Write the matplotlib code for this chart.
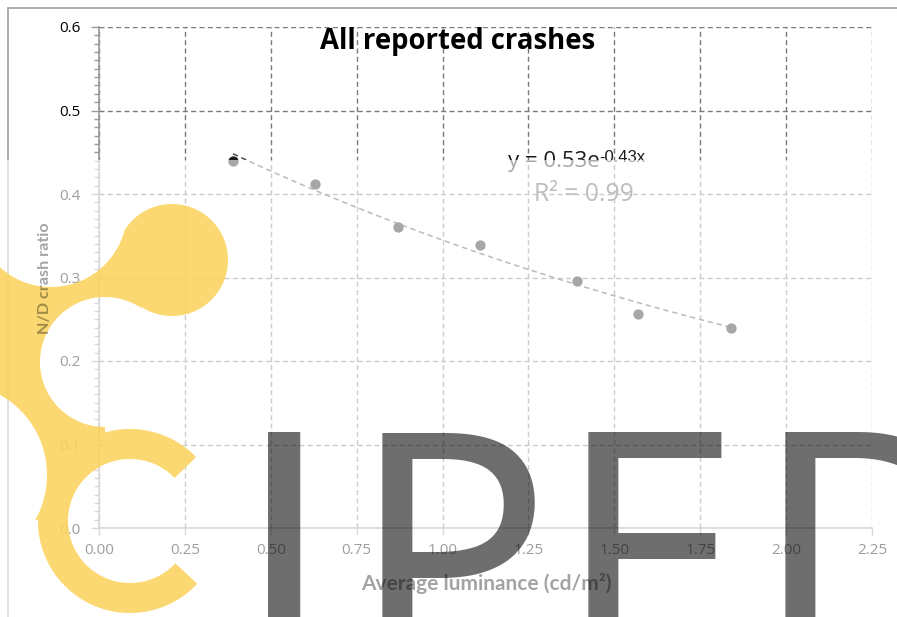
import numpy as np
import matplotlib.pyplot as plt
from matplotlib.patches import Rectangle
from matplotlib.ticker import MultipleLocator

# values
luminance = [0.39, 0.63, 0.87, 1.11, 1.39, 1.57, 1.84]
nd_ratio = [0.440, 0.412, 0.360, 0.339, 0.296, 0.256, 0.240]
x_ticks = [0.00, 0.25, 0.50, 0.75, 1.00, 1.25, 1.50, 1.75, 2.00, 2.25]
y_ticks = [0.0, 0.1, 0.2, 0.3, 0.4, 0.5, 0.6]
fit_a = 0.53   # y = a * exp(b * x), from the trendline label
fit_b = -0.43
r_squared = 0.99

title = "All reported crashes"
x_label = "Average luminance (cd/m²)"
y_label = "N/D crash ratio"
watermark = ["I", "P", "E", "D"]

W, H = 897, 617
fig = plt.figure(figsize=(W / 100, H / 100), dpi=100)
fig.patch.set_facecolor("white")
ax = fig.add_axes([99 / W, 1 - 528 / H, (872 - 99) / W, (528 - 27) / H])
ax.set_facecolor("none")

# scatter + exponential trendline
ax.scatter(luminance, nd_ratio, s=55, color="#1a1a1a", zorder=4, linewidths=0)
xs = np.linspace(min(luminance), max(luminance), 100)
ax.plot(xs, fit_a * np.exp(fit_b * xs), color="#4d4d4d", lw=1.1,
        dashes=(3.5, 2.5), zorder=3)

ax.set_xlim(x_ticks[0], x_ticks[-1])
ax.set_ylim(y_ticks[0], y_ticks[-1])
ax.set_xticks(x_ticks)
ax.set_yticks(y_ticks)
ax.set_xticklabels([f"{v:.2f}" for v in x_ticks])
ax.set_yticklabels([f"{v:.1f}" for v in y_ticks])
ax.yaxis.set_minor_locator(MultipleLocator(0.01))
ax.grid(True, which="major", color="#7a7a7a", lw=1.0, dashes=(3.6, 2.4))
ax.set_axisbelow(True)
for s in ["top", "right"]:
    ax.spines[s].set_visible(False)
for s in ["left", "bottom"]:
    ax.spines[s].set_color("#999999")
    ax.spines[s].set_linewidth(1.2)
ax.tick_params(axis="both", which="major", colors="#999999", labelcolor="black",
               labelsize=11, length=5, width=1.0)
ax.tick_params(axis="y", which="major", length=6, pad=7)
ax.tick_params(axis="y", which="minor", colors="#999999", length=3.5, width=1.0)
ax.tick_params(axis="x", pad=6)
for lab in ax.get_xticklabels() + ax.get_yticklabels():
    lab.set_family("Open Sans")

eq = ax.text(0.529, 0.72, "y = 0.53e", transform=ax.transAxes, fontsize=16,
             family="Open Sans", color="#1a1a1a", va="baseline", ha="left")
ax.annotate(f"{fit_b:.2f}x", xy=(1, 1.05), xycoords=eq, fontsize=12,
            family="Liberation Sans", color="#1a1a1a", va="top", ha="left")
ax.text(0.627, 0.665, f"R² = {r_squared:.2f}", transform=ax.transAxes,
        fontsize=17.8, family="Open Sans", color="#555555", ha="center", va="center")

fig.text(458 / W, 1 - 42 / H, title, family="Open Sans", weight="bold",
         fontsize=19.8, color="black", ha="center", va="center")

# outer chart frame
fig.add_artist(Rectangle((7.5 / W, -0.1), 1.2, 1.1 - 7.5 / H, transform=fig.transFigure,
                         fill=False, edgecolor="#a6a6a6", lw=1.3, zorder=1))

# white veil over the lower part of the picture
fig.add_artist(Rectangle((0, 0), 1, 1 - 160 / H, transform=fig.transFigure,
                         facecolor="white", edgecolor="none", alpha=0.62, zorder=2.5))

# grey watermark letters
letter_fonts = [("DejaVu Sans", 235), ("Noto Sans", 240), ("Noto Sans", 240),
                ("Noto Sans", 240)]
for letter, cx, (fam, size) in zip(watermark, [284, 450, 648, 874], letter_fonts):
    fig.text(cx / W, 1 - 670 / H, letter, family=fam, weight=500,
             fontsize=size, color="black", alpha=0.57, ha="center", va="baseline",
             zorder=4)

# yellow logo, built from circles in pixel space
yy, xx = np.mgrid[0:H, 0:W] + 0.5


def disc(cx, cy, r):
    return np.hypot(xx - cx, yy - cy) - r


head = disc(172, 260, 56)
rc = np.hypot(xx - 130, yy - 521)
ring = np.abs(rc - 77) - 15
theta = np.degrees(np.arctan2(521 - yy, xx - 130))
cut = np.clip(np.minimum(44 - theta, theta + 43), -90, 90)
ring = np.maximum(ring, rc * np.sin(np.radians(cut)))
n = np.array([68.0, -21.0]) / np.hypot(68, 21)
band1 = np.maximum.reduce([n[0] * (xx - 120) + n[1] * (yy - 239), yy - 340, 200 - yy])
band2 = np.maximum.reduce([xx - 105, 340 - yy, yy - 520])
shape = np.minimum.reduce([head, ring, band1, band2])
for cx, cy, r in [(51, 211, 76), (105, 362, 65), (-45, 475, 92), (130, 521, 62)]:
    shape = np.maximum(shape, -disc(cx, cy, r))
cover = np.clip(0.5 - shape, 0, 1)
logo = np.zeros((H, W, 4))
logo[..., 0] = 251 / 255
logo[..., 1] = 211 / 255
logo[..., 2] = 93 / 255
logo[..., 3] = cover * 0.88
fig.figimage(logo, xo=0, yo=0, origin="upper", zorder=5)

# axis titles sit over the watermark and darken it, like the original
fig.text(486 / W, 1 - 583 / H, x_label, family="Lato", weight="bold", fontsize=15,
         color="black", alpha=0.36, ha="center", va="center", zorder=6)
fig.text(45 / W, 1 - 278 / H, y_label, family="Lato", weight="bold", fontsize=11.6,
         color="black", alpha=0.36, rotation=90, ha="center", va="center", zorder=6)

fig.savefig("out.png", dpi=100)
